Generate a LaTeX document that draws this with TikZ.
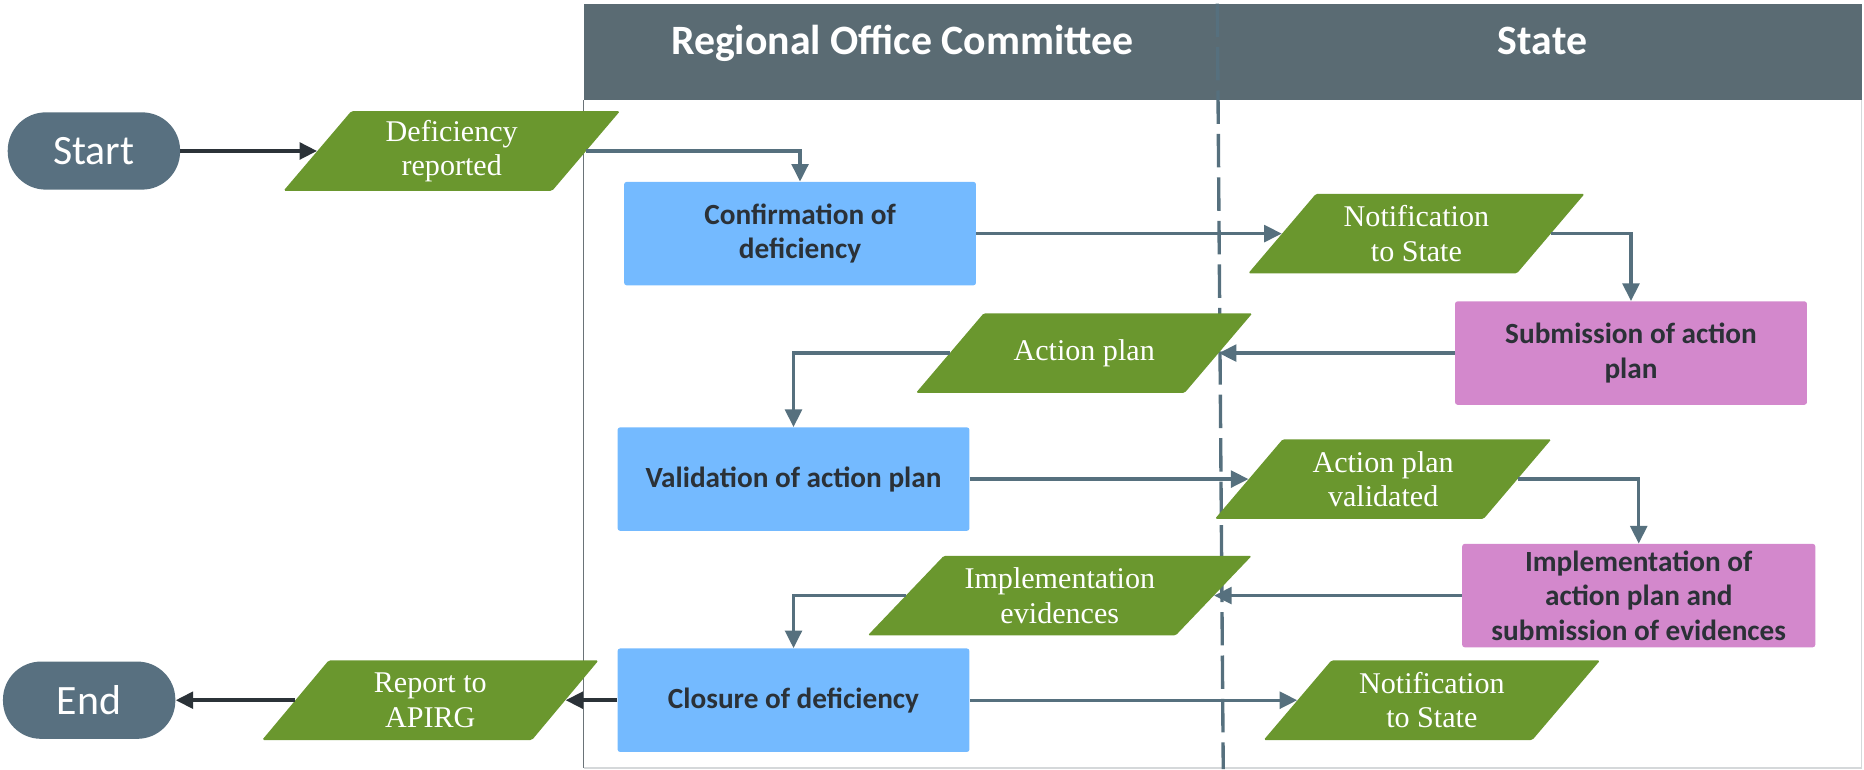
\documentclass[tikz,border=0pt]{standalone}
\usepackage{fontspec}
\setmainfont{Liberation Serif}
\newfontfamily\carlito{Carlito}
\usetikzlibrary{arrows.meta}
\definecolor{hdr}{HTML}{5A6B73}
\definecolor{termc}{HTML}{587080}
\definecolor{grn}{HTML}{6A972E}
\definecolor{blu}{HTML}{74BAFF}
\definecolor{pnk}{HTML}{D388CC}
\definecolor{arrc}{HTML}{56707E}
\definecolor{dk}{HTML}{2B3238}
\definecolor{txt}{HTML}{2B3137}
\definecolor{frame}{HTML}{6A7378}
\definecolor{lframe}{HTML}{D5D8DA}
\newcommand\paranode[6]{%
  \fill[grn, rounded corners=1pt] (#2-#4/2-#5/2,#3+33.5) -- (#2+#4/2-#5/2,#3+33.5)
     -- (#2+#4/2+#5/2,#3-33.5) -- (#2-#4/2+#5/2,#3-33.5) -- cycle;
  \node[paratext, minimum width=#4*0.025cm] (#1) at (#2,#3) {#6};}
\begin{document}
\begin{tikzpicture}[x=0.025cm,y=-0.025cm,
  hdrtext/.style={text=white, font=\carlito\bfseries\fontsize{25}{30}\selectfont, anchor=base, inner sep=0pt},
  termnode/.style={fill=termc, rounded corners=0.8cm, minimum width=145*0.025cm, minimum height=65*0.025cm,
     text=white, font=\carlito\fontsize{25}{30}\selectfont, inner sep=0pt},
  procbox/.style={rectangle, rounded corners=1.5pt, minimum width=296*0.025cm, minimum height=87*0.025cm,
     inner sep=0pt, align=center, text=txt, font=\carlito\bfseries\fontsize{17.5}{20.5}\selectfont},
  bluebox/.style={procbox, fill=blu},
  pinkbox/.style={procbox, fill=pnk},
  paratext/.style={inner sep=0pt, minimum height=67*0.025cm, align=center, text=white,
     font=\fontsize{18}{20.5}\selectfont},
  flow/.style={draw=arrc, line width=2pt, -{Triangle[length=10.5pt,width=10pt]}},
  dflow/.style={draw=dk, line width=2.2pt, -{Triangle[length=10.5pt,width=10pt]}},
  lane/.style={draw=arrc, line width=2pt, dash pattern=on 20pt off 6pt}
]
\useasboundingbox (0,0) rectangle (1568,647);
% header and lanes
\fill[hdr] (491,3) rectangle (1566,84);
\draw[frame, line width=0.9pt] (491,84) -- (491,646);
\draw[lframe, line width=0.9pt] (491,646) -- (1566,646) -- (1566,84);
\node[hdrtext] (hroc) at (759,45.5) {Regional Office Committee};
\node[hdrtext] (hstate) at (1297.5,46) {State};
\coordinate (dtop) at (1024,3);
\coordinate (dbot) at (1029,647);
\draw[lane] (dtop) -- (dbot);
% terminals
\node[termnode] (start) at (79,127) {Start};
\node[termnode] (end) at (75,589) {End};
% parallelograms
\paranode{defrep}{380}{127}{226}{57}{Deficiency\\reported}
\paranode{notif1}{1191.5}{196.5}{226}{57}{Notification\\to State}
\paranode{ap}{912}{297}{226}{57}{Action plan}
\paranode{apv}{1163.5}{403}{226}{57}{Action plan\\validated}
\paranode{impev}{891.5}{501}{259}{64}{Implementation\\evidences}
\paranode{rep}{362}{589}{227}{56}{Report to\\APIRG}
\paranode{notif2}{1204.5}{589}{226}{57}{Notification\\to State}
% process boxes
\node[bluebox] (conf) at (673,196.5) {Confirmation of\\deficiency};
\node[pinkbox] (sub) at (1372,297) {Submission of action\\plan};
\node[bluebox] (val) at (667.5,403) {Validation of action plan};
\node[pinkbox, minimum width=297*0.025cm] (impl) at (1378.5,501) {Implementation of\\action plan and\\submission of evidences};
\node[bluebox] (clos) at (667.5,589) {Closure of deficiency};
% connectors
\draw[dflow] (start) -- (defrep);
\draw[flow] (defrep) -| (conf);
\draw[flow] (conf) -- (notif1);
\draw[flow] (notif1) -| (sub);
\draw[flow] (sub) -- (ap);
\draw[flow] (ap) -| (val);
\draw[flow] (val) -- (apv);
\draw[flow] (apv) -| (impl);
\draw[flow] (impl) -- (impev);
\draw[flow] (impev) -| (clos);
\draw[dflow] (clos) -- (rep);
\draw[dflow] (rep) -- (end);
\draw[flow] (clos) -- (notif2);
\end{tikzpicture}
\end{document}
